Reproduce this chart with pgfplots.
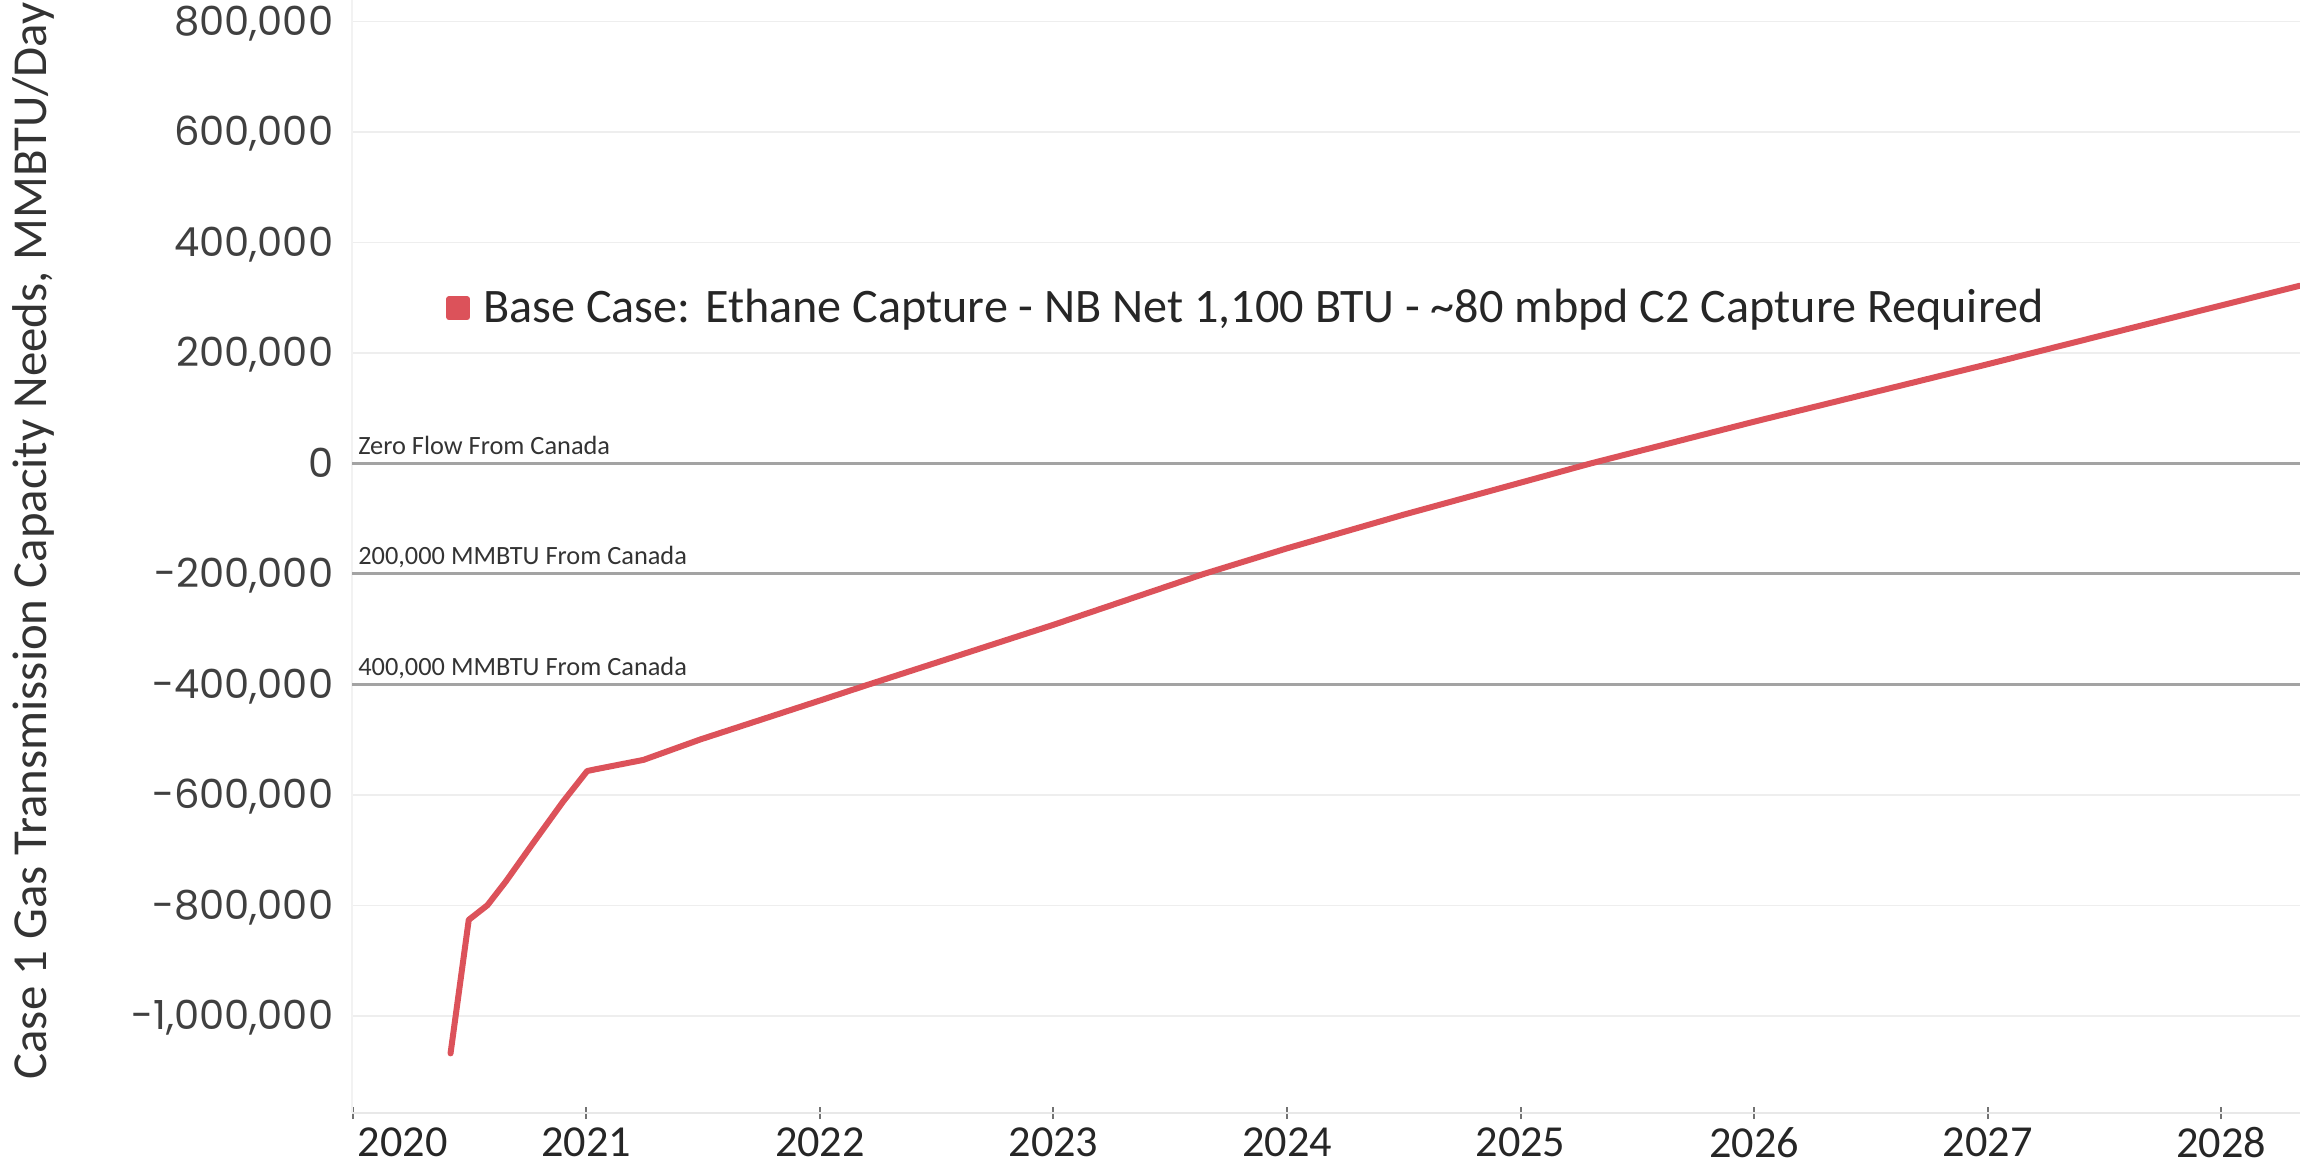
\documentclass[border=0pt]{standalone}
\usepackage{fontspec}
\setmainfont{Carlito}
\newfontfamily\tickfont{Poppins}
\usepackage{pgfplots}
\pgfplotsset{compat=1.18}

\definecolor{linered}{HTML}{DC525A}
\definecolor{refgray}{HTML}{A3A3A3}
\definecolor{gridgray}{HTML}{EEEEEE}

\begin{document}
\begin{tikzpicture}
\useasboundingbox (0,0) rectangle (230mm,117.1mm);

% y axis title
\node[rotate=90, font=\fontsize{13.9pt}{15pt}\selectfont, text=black!80, inner sep=0pt] at (3.3mm,63.0mm)
  {Case 1 Gas Transmission Capacity Needs, MMBTU/Day};

\begin{axis}[
    at={(35.2mm,5.8mm)}, anchor=south west,
    scale only axis,
    width=194.8mm, height=111.3mm,
    xmin=2019.996, xmax=2028.338,
    ymin=-1175600, ymax=838900,
    axis lines*=left,
    x axis line style={gray!18, line width=0.15mm},
    y axis line style={gray!10, line width=0.15mm},
    xtick={2020,2021,...,2028},
    xticklabels={\makebox[0pt][l]{\hspace{0.5mm}2020},2021,2022,2023,2024,2025,2026,2027,2028},
    minor x tick num=11,
    tick align=center,
    major tick length=1.2mm,
    minor tick length=0.6mm,
    x tick style={black!55, line width=0.2mm},
    minor x tick style={gray!45, line width=0.15mm},
    xticklabel style={font=\fontsize{12.6pt}{13pt}\selectfont, text=black!85, anchor=north, yshift=0.4mm},
    ytick={-1000000,-800000,-600000,-400000,-200000,0,200000,400000,600000,800000},
    yticklabels={{-1,000,000},{-800,000},{-600,000},{-400,000},{-200,000},{0},{200,000},{400,000},{600,000},{800,000}},
    yticklabel style={font=\tickfont\fontsize{11.4pt}{12pt}\selectfont, text=black!75, anchor=east,
        inner sep=0pt, text height=2.8mm, text depth=0pt, xshift=-1.2mm},
    y tick style={draw=none},
    ymajorgrids,
    grid style={gridgray, line width=0.15mm},
    legend style={at={(0.048,0.723)}, anchor=west, draw=none, fill=none,
        font=\fontsize{13.7pt}{15pt}\selectfont, text=black!85, inner sep=0pt},
    legend image code/.code={\fill[linered] (0mm,-0.9mm) rectangle (1.8mm,0.9mm);},
    legend style={nodes={inner xsep=1.3mm}},
]

% reference lines
\addplot[refgray, line width=0.3mm, forget plot] coordinates {(2019.996,0) (2028.338,0)};
\addplot[refgray, line width=0.3mm, forget plot] coordinates {(2019.996,-200000) (2028.338,-200000)};
\addplot[refgray, line width=0.3mm, forget plot] coordinates {(2019.996,-400000) (2028.338,-400000)};

\node[anchor=base west, font=\fontsize{7.5pt}{8pt}\selectfont, text=black!80, inner sep=0pt]
  at (axis cs:2020.02,0) [yshift=0.9mm] {Zero Flow From Canada};
\node[anchor=base west, font=\fontsize{7.5pt}{8pt}\selectfont, text=black!80, inner sep=0pt]
  at (axis cs:2020.02,-200000) [yshift=0.9mm] {200,000 MMBTU From Canada};
\node[anchor=base west, font=\fontsize{7.5pt}{8pt}\selectfont, text=black!80, inner sep=0pt]
  at (axis cs:2020.02,-400000) [yshift=0.9mm] {400,000 MMBTU From Canada};

% base case
\addplot[linered, line width=0.6mm, line join=round, line cap=round] coordinates {
    (2020.418,-1067700)
    (2020.496,-826000)
    (2020.576,-799500)
    (2020.654,-757000)
    (2020.770,-688000)
    (2020.899,-612500)
    (2021.003,-556700)
    (2021.035,-553800)
    (2021.244,-536500)
    (2021.489,-499300)
    (2022.000,-429000)
    (2022.209,-400000)
    (2023.000,-292000)
    (2023.643,-200000)
    (2024.000,-153600)
    (2024.500,-92600)
    (2025.300,0)
    (2026.000,75600)
    (2027.000,179600)
    (2028.000,286000)
    (2028.338,321800)
};
\addlegendentry{Base Case: Ethane Capture - NB Net 1,100 BTU - \textasciitilde80 mbpd C2 Capture Required}
\end{axis}
\end{tikzpicture}
\end{document}
